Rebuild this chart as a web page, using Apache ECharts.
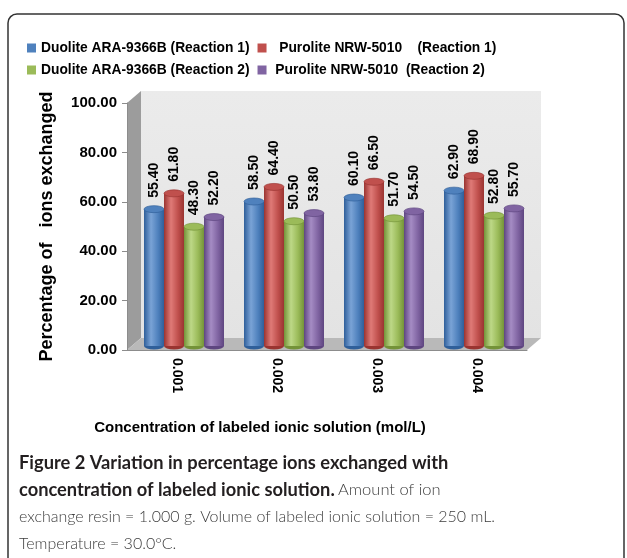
<!DOCTYPE html>
<html>
<head>
<meta charset="utf-8">
<script src="https://cdn.jsdelivr.net/npm/echarts@6/dist/echarts.min.js"></script>
<style>
  html, body { margin: 0; padding: 0; background: #fff; }
  #main { width: 627px; height: 558px; }
</style>
</head>
<body>
<div id="main"></div>
<script>
// categories and values
var categories = ["0.001", "0.002", "0.003", "0.004"];
var duoliteR1 = [55.4, 58.5, 60.1, 62.9];
var puroliteR1 = [61.8, 64.4, 66.5, 68.9];
var duoliteR2 = [48.3, 50.5, 51.7, 52.8];
var puroliteR2 = [52.2, 53.8, 54.5, 55.7];
var yTicks = [0, 20, 40, 60, 80, 100];

var seriesNames = [
  "Duolite ARA-9366B (Reaction 1)",
  "  Purolite NRW-5010    (Reaction 1)",
  "Duolite ARA-9366B (Reaction 2)",
  " Purolite NRW-5010  (Reaction 2)"
];
var seriesData = [duoliteR1, puroliteR1, duoliteR2, puroliteR2];
var colors = [
  { base: "#4f81bd", dark: "#2f5f9a", light: "#7aa3d6" },
  { base: "#c0504d", dark: "#9a3431", light: "#df7a77" },
  { base: "#9bbb59", dark: "#749339", light: "#bdd887" },
  { base: "#8064a2", dark: "#5e4680", light: "#a58cc4" }
];

// plot geometry
var gridLeft = 127, gridTop = 103, gridW = 400, gridH = 247;
var depthX = 14, depthY = 12;

var myChart = echarts.init(document.getElementById("main"));

function cylinder(idx) {
  return function (params, api) {
    var cat = api.value(0);
    var val = api.value(1);
    var band = api.size([1, 0])[0];
    var barW = band * 0.2;
    var top = api.coord([cat, val]);
    var base = api.coord([cat, 0]);
    var cx = top[0] + depthX / 2 + (idx - 1.5) * barW;
    var ty = top[1] - depthY / 2 + 2;
    var by = base[1] - depthY / 2 + 2;
    var ry = 3.5;
    var c = colors[idx];
    var grad = new echarts.graphic.LinearGradient(0, 0, 1, 0, [
      { offset: 0, color: c.dark },
      { offset: 0.35, color: c.light },
      { offset: 0.7, color: c.base },
      { offset: 1, color: c.dark }
    ]);
    return {
      type: "group",
      children: [
        {
          type: "circle",
          x: cx, y: by, scaleY: ry / (barW / 2),
          shape: { cx: 0, cy: 0, r: barW / 2 },
          style: { fill: c.dark }
        },
        {
          type: "rect",
          shape: { x: cx - barW / 2, y: ty, width: barW, height: by - ty },
          style: { fill: grad }
        },
        {
          type: "circle",
          x: cx, y: ty, scaleY: ry / (barW / 2),
          shape: { cx: 0, cy: 0, r: barW / 2 },
          style: { fill: c.base, stroke: c.dark, lineWidth: 1 }
        },
        {
          type: "text",
          x: cx, y: ty - ry - 8, rotation: Math.PI / 2,
          style: {
            text: val.toFixed(2),
            fill: "#000",
            font: "bold 14px 'Liberation Sans', Arial, sans-serif",
            align: "left",
            verticalAlign: "middle"
          }
        }
      ]
    };
  };
}

var series = seriesNames.map(function (name, i) {
  return {
    name: name,
    type: "custom",
    renderItem: cylinder(i),
    itemStyle: { color: colors[i].base },
    encode: { x: 0, y: 1 },
    data: seriesData[i].map(function (v, k) { return [k, v]; }),
    z: 3
  };
});

var legendText = {
  color: "#000",
  fontSize: 13.8,
  fontWeight: "bold",
  fontFamily: "'Liberation Sans', Arial, sans-serif"
};

var option = {
  animation: false,
  textStyle: { fontFamily: "'Liberation Sans', Arial, sans-serif" },
  legend: [
    {
      data: [seriesNames[0], seriesNames[1]],
      left: 27, top: 41, padding: 0, itemGap: 8,
      itemWidth: 9, itemHeight: 9, icon: "rect",
      textStyle: legendText
    },
    {
      data: [seriesNames[2], seriesNames[3]],
      left: 27, top: 63, padding: 0, itemGap: 8,
      itemWidth: 9, itemHeight: 9, icon: "rect",
      textStyle: legendText
    }
  ],
  grid: {
    left: gridLeft,
    top: gridTop,
    width: gridW,
    height: gridH
  },
  xAxis: {
    type: "category",
    data: categories,
    boundaryGap: true,
    axisLine: { lineStyle: { color: "#8c8c8c" } },
    axisTick: { lineStyle: { color: "#8c8c8c" }, length: 5 },
    axisLabel: {
      rotate: -90,
      margin: 8,
      color: "#000",
      fontSize: 14,
      fontWeight: "bold"
    }
  },
  yAxis: {
    type: "value",
    min: yTicks[0],
    max: yTicks[yTicks.length - 1],
    interval: yTicks[1] - yTicks[0],
    name: "Percentage of   ions exchanged",
    nameLocation: "middle",
    nameGap: 71,
    nameTextStyle: { color: "#000", fontSize: 18, fontWeight: "bold" },
    axisLine: { show: true, lineStyle: { color: "#8c8c8c" } },
    axisTick: { show: true, length: 5, lineStyle: { color: "#8c8c8c" } },
    splitLine: { show: false },
    axisLabel: {
      margin: 10,
      color: "#000",
      fontSize: 15,
      fontWeight: "bold",
      formatter: function (v) { return v.toFixed(2); }
    }
  },
  graphic: [
    // rounded frame
    {
      type: "rect", z: -20,
      shape: { x: 8, y: 14, width: 616, height: 600, r: 9 },
      style: { fill: "#fff", stroke: "#333", lineWidth: 1.5 }
    },
    // back wall
    {
      type: "rect", z: -10,
      shape: { x: gridLeft + depthX, y: gridTop - depthY, width: gridW, height: gridH },
      style: {
        fill: new echarts.graphic.LinearGradient(0, 0, 0, 1, [
          { offset: 0, color: "#ebebeb" },
          { offset: 1, color: "#e3e3e3" }
        ])
      }
    },
    // side wall
    {
      type: "polygon", z: -10,
      shape: {
        points: [
          [gridLeft, gridTop],
          [gridLeft + depthX, gridTop - depthY],
          [gridLeft + depthX, gridTop + gridH - depthY],
          [gridLeft, gridTop + gridH]
        ]
      },
      style: { fill: "#9c9c9c" }
    },
    // floor
    {
      type: "polygon", z: -10,
      shape: {
        points: [
          [gridLeft, gridTop + gridH],
          [gridLeft + depthX, gridTop + gridH - depthY],
          [gridLeft + gridW + depthX, gridTop + gridH - depthY],
          [gridLeft + gridW, gridTop + gridH]
        ]
      },
      style: { fill: "#b9b9b9" }
    },
    // x axis title
    {
      type: "text",
      style: {
        text: "Concentration of labeled ionic solution (mol/L)",
        fill: "#000",
        font: "bold 15px 'Liberation Sans', Arial, sans-serif",
        x: 260, y: 428,
        align: "center", verticalAlign: "middle"
      }
    },
    // caption
    {
      type: "text",
      style: {
        text: "Figure 2 Variation in percentage ions exchanged with",
        fill: "#231f20",
        font: "bold 18.3px Lato, 'Open Sans', sans-serif",
        x: 19, y: 463, verticalAlign: "middle"
      }
    },
    {
      type: "text",
      style: {
        text: "{b|concentration of labeled ionic solution.} {n|Amount of ion}",
        x: 19, y: 490, verticalAlign: "middle",
        rich: {
          b: { fill: "#231f20", font: "bold 18.3px Lato, 'Open Sans', sans-serif" },
          n: { fill: "#3c3c3c", font: "300 16.5px Lato, 'Open Sans', sans-serif" }
        }
      }
    },
    {
      type: "text",
      style: {
        text: "exchange resin = 1.000 g. Volume of labeled ionic solution = 250 mL.",
        fill: "#3c3c3c",
        font: "300 16px Lato, 'Open Sans', sans-serif",
        x: 19, y: 517, verticalAlign: "middle"
      }
    },
    {
      type: "text",
      style: {
        text: "Temperature = 30.0°C.",
        fill: "#3c3c3c",
        font: "300 16px Lato, 'Open Sans', sans-serif",
        x: 19, y: 544, verticalAlign: "middle"
      }
    }
  ],
  series: series
};

myChart.setOption(option);
</script>
</body>
</html>
